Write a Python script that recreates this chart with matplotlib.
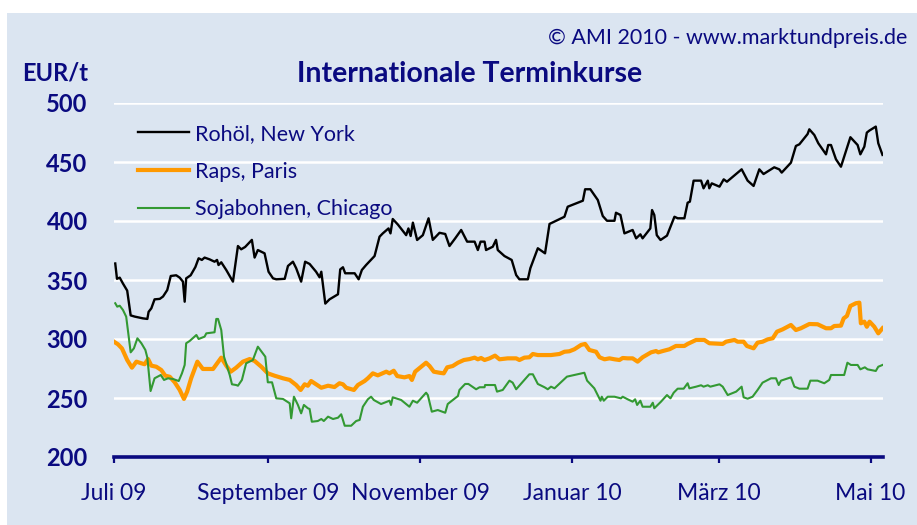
import matplotlib
matplotlib.use("Agg")
import matplotlib.pyplot as plt
import numpy as np
import pandas as pd
from matplotlib.patches import Rectangle

plt.rcParams["font.family"] = ["Lato", "DejaVu Sans"]

NAVY = "#0a0a80"
BG = "#dbe5f1"

START = pd.Timestamp("2009-07-01")

# Days since 1 July 2009 and prices in EUR/t.
oil_days = [0.5, 1.2, 2.3, 3.6, 5.3, 6.7, 8.3, 11.6, 13.4, 13.9, 15, 16.3, 18.4, 19.7, 21.4,
            22.8, 25, 26.4, 27.7, 28.4, 29, 30.8, 32.7, 34, 35.3, 36.4, 38.4, 40.4, 41.4, 42,
            43.1, 45.1, 47.8, 49.8, 51.1, 52.7, 55.4, 56.5, 57.8, 60.5, 62.1, 63.9, 65.2, 68.6,
            69.9, 71.9, 73.2, 75.2, 76.8, 78.6, 81.2, 82.6, 83.3, 84.9, 86.6, 90, 90.9, 92, 92.9,
            96.7, 98.3, 99.6, 101.3,
            104.7, 106.7, 108, 110.3, 111.1, 112, 114.1, 117.4, 118.3, 119.2, 120.1, 121.8, 124.1,
            126.4, 128.1, 130.8, 133.1, 134.8, 137.1, 139.5, 141.9, 144.9, 146.2, 147.3, 148.9,
            149.5, 152.2, 153.5, 154.2, 156.9, 159.8, 161.6, 162.9, 166.3, 167.3, 170.3, 173.2,
            175, 181, 182.3, 188.4, 189.3, 191.4, 194.4, 196.4, 198.1, 201.1, 201.7, 203.5, 205.1,
            208.4, 209.8, 211.5, 212.4, 215.5, 216.2, 217.1, 218.1, 219.6, 222.2, 225.2, 226.5,
            229.2, 230.5, 231.4, 232.9, 235.9, 236.9, 238.6, 239.2, 240.2, 243.3, 245, 246.3,
            252.2, 254.6, 257, 259.3, 261, 265.3, 267.3, 268.3, 272, 274, 275.4, 278.7, 279.4,
            281.4, 283, 286.1, 287, 288.1, 290.1, 292.1, 294.5, 295.9, 298.8, 299.9, 301.5,
            302.5, 303.5, 306.1, 307.1, 308.8]
oil_eur = [364, 351, 352, 347, 341, 320, 319, 317.5, 317, 323, 326, 333.6, 334, 336, 341.5,
           353.4, 354, 352, 348.6, 331.6, 351.4, 354, 361, 368.4, 367, 369, 367.5, 365.5, 367,
           362.7, 365, 358.5, 348.6, 378.8, 376, 378, 384, 369, 375.4, 372.6, 357, 351.4, 350.6,
           351, 361.9, 365.5, 360, 348.6, 365.5, 363.6, 357, 352.3, 357, 330, 333.6, 337.9, 359,
           360.8, 355.7, 355.7, 350.6, 358.5, 362.7,
           370.3, 386.7, 389.5, 393.7, 389.5, 401.7, 396.9, 388, 393.7, 387.3, 398.6, 383.9, 388,
           402.3, 384, 390, 389, 378.8, 385.3, 392.4, 382.5, 382.5, 375.4, 382.5, 382.5, 375.4,
           378.2, 384, 375.4, 370.3, 367, 354.2, 350.6, 350.6, 360, 376.9, 372.6, 397.5, 403.6,
           412.1, 417.2, 426.9, 426.9, 417.8, 404.2, 400.2, 400.2, 407, 405.1, 389.5,
           392.4, 385.3, 388.7, 385.3, 393.7, 409.3, 405.1, 388, 383.9, 387.6, 403.6, 402.3,
           402.3, 415.5, 416.4, 434.2, 434.2, 427.7, 434.2, 427.7, 431.9, 429.1, 435.3, 433.3,
           443.8, 434.2, 429.7, 443.8, 439.8, 445.5, 443.8, 441, 449.4, 463.6, 465, 473.7, 477.7,
           472.9, 465.9, 456.5, 464.4, 464.4, 452.3, 446, 461.6, 471, 464.4, 456.5, 463, 474.9,
           476.6, 480, 465.9, 456]

raps_days = [0, 1.6, 3.2, 5.3, 7.2, 9, 11, 12.3, 13.7, 15, 17, 19, 20.6, 22.4, 24.4, 26.4, 28.1,
             29.4, 31, 33.5, 35.7, 39.8, 43.1, 45.1, 46.9, 49.1, 51.8, 54.5, 56.5, 59.2, 61.8,
             64.5, 67.9, 70.6, 73.2, 75, 76.6, 77.9, 79.2, 81.2, 83.3, 86, 88.6, 90.6, 92, 93.3,
             96.4, 98, 100.7,
             102, 104, 106, 109.4, 110.7, 112.4, 113.8, 116.7, 118.7, 119.7, 121, 123.4, 125.4,
             126.8, 128.5, 130.8, 132.5, 133.9, 136.1, 138.2, 140.6, 142.9, 144.9, 146.2, 147.5,
             148.9, 150.9, 153.1, 154.9, 158.2, 161.6, 162.9, 164.9, 166.9, 168.3, 170.3, 175.6,
             179, 181, 183, 185, 187.7, 189.3, 191, 193.7, 195.1, 197.1, 199.1, 201.1, 203.1, 204.4,
             206.4, 208.4, 210.4, 212.4, 215.8, 217.8, 218.7, 220.5, 223.2, 225.8, 229.2, 230.5,
             233.9, 237.2, 239.2, 244.6, 245.9, 249.3, 250.6, 253, 254.3, 257, 258.6, 260.6,
             262.7, 264.7, 266.4, 268.7, 272, 274, 276, 279.4, 282.7, 286.1, 288.1, 289.4, 292.1,
             293.2, 294.5, 295.9, 298.1, 299.5, 300.1, 301.5, 302.5, 303.6, 305.5, 307.1, 308.8]
raps_eur = [297.7, 295.5, 292, 282.2, 275.7, 280.8, 279.4, 278.6, 283, 277.4, 276.5, 273.7, 268.9,
            268, 263.3, 256.8, 249.2, 255.4, 266.7, 280.8, 274.6, 274.6, 284.2, 277.4, 272.3,
            275.7, 280.8, 283, 281.4, 276.5, 270.9, 268.9, 266.7, 265.3, 261, 256.8, 261.6, 260.4,
            264.4, 261.6, 258.7, 260.4, 259.3, 262.5, 261.6, 258.7, 256.8, 261, 264.4,
            266.7, 270.9, 269.2, 272.3, 270.9, 273.1, 268.6, 267.5, 268.6, 265.3, 272.3, 276.5,
            279.9, 277.1, 272.3, 271.4, 270.9, 276, 277.1, 279.9, 282.2, 283, 284.2, 282.8, 283.9,
            282.2, 283.6, 285.9, 282.8, 283.6, 283.6, 282.2, 284.2, 284.5, 287.3, 286.4, 286.4,
            287.3, 289.2, 289.6, 291.3, 295, 295.8, 290.7, 289.2, 284.5, 282.8, 283.6, 282.8,
            282.2, 283.9,
            283.6, 283.6, 280.8, 284.5, 288.7, 289.8, 288.7, 289.8, 291.3, 294.1, 294.1, 295.8,
            299.2, 299.2, 296.4, 295.8, 297.7, 299.2, 297.7, 297.7, 294.1, 292.1, 296.9, 297.7,
            299.7, 300.6, 306.2, 308.2, 311.9, 307.6, 309.1, 312.7, 312.5, 309.1, 309.1, 311,
            311.3, 317.5, 319.5, 328, 330.3, 330.8, 313.3, 314.7, 310.4, 314.7, 310.4, 304.8, 309.1]

soja_days = [0.5, 1.3, 2.3, 3.6, 4.9, 6.7, 8, 9.4, 11, 12.6, 13.4, 14.7, 16.3, 18.8, 20.1, 21.7,
             23.7, 26, 27.3, 28.4, 29, 30.4, 33.1, 34, 36.4, 37.1, 40.4, 41.1, 41.8, 43.1, 44.2,
             46.5, 47.4, 49.1, 49.8, 51.4, 53.1, 55.8, 57.8, 60.8, 61.8, 63.5, 65.2, 67.9, 70.6,
             71.2, 72.3, 73.9, 75.2, 76.3, 77.9, 78.6, 79.5, 81.9, 83.3, 84.3, 86, 88, 90, 91.3,
             92.7, 95.3, 97.3, 98.7, 100,
             102, 103.3, 104.4, 107.3, 110.7, 111.3, 112, 115.4, 118.7, 120.1, 121.8, 125.4,
             126.1, 127.7, 130.1, 133.1, 134.1, 138.2, 138.8, 141.1, 142.4, 145.5, 146.9, 148.9,
             149.1, 153.1, 153.9, 156.2, 158.9, 160.2, 161.6, 166.9, 168.3, 170.3, 173, 174.3,
             175.6, 177, 182, 189, 190.1, 193, 195.5, 196, 196.8, 198.4, 201.1, 203.7, 204.4,
             206.4, 208.4, 209.4, 210.2, 211.5, 212.4, 215.5, 216.5, 217.1, 219.8, 222.2, 223.6,
             224.9, 226.5, 228.9, 230.5, 231.2, 233.9, 235.9, 236.9, 238.6, 239.6, 243.3, 244.6,
             246.6, 250, 252.2, 253, 254.6, 256.6, 258.6, 260.6, 264, 266, 267.1, 268, 272, 273.4,
             275.4, 278.7, 279.8, 282.7, 285.4, 287.4, 288.1, 293.4, 294.7, 296.1, 298.8, 299.9,
             301.7, 302.8, 306.1, 307.1, 308.8]
soja_eur = [330.3, 327.4, 328.2, 324.6, 318.9, 288.7, 292.1, 300.6, 296.4, 290.7, 284.2, 255.9,
            266.7, 269.5, 265.3, 266.7, 266.1, 264.4, 270.9, 278, 296.4, 298.3, 303.4, 300, 302,
            304.8, 305.7, 317, 317, 307.6, 285, 269.5, 261.6, 261, 260.4, 265.3, 279.4, 282.2,
            293.5, 285, 263.3, 263.3, 249.7, 249.2, 245.5, 232.8, 251.1, 244.1, 237, 244.1, 241.3,
            240.7, 229.9, 230.5, 232.2, 230.5, 234.2, 232.2, 233.3, 236.2, 226.5, 226.5, 230.5,
            231.4, 242.6,
            248.9, 251.1, 248.3, 244.9, 247.7, 244.1, 250.6, 248.3, 242.6, 247.7, 246, 254.5,
            252.5, 238.4, 239.8, 237.5, 244.9, 251.7, 256.8, 261.9, 261.9, 257.4, 259.1, 259.1,
            261, 261, 255.4, 256.8, 264.7, 263, 257.4, 270.1, 270.1, 261.9, 259.1, 257.4, 259.6,
            258.2, 268.1, 271.4, 264.7, 258.2, 247.7, 251.1, 247.7, 251.1, 251.1, 249.7, 251.1,
            248.9, 246.9, 248.9, 244.1, 247.7, 242.6, 242.6, 246, 241.3, 246.9, 252.5, 249.7,
            254.5, 257.9, 257.9, 262.5, 258.2, 259.6, 260.8, 259.6, 260.8, 259.6, 261.6, 259.6,
            252.5, 255.4, 259.6, 250.6, 249.4, 251.1, 256.8, 263, 266.7, 266.7, 261, 264.7, 267.5,
            259.6, 257.9, 257.9, 264.7, 264.7, 262.5, 265.3, 269.5, 269.5, 279.9, 278, 278, 274.3,
            276, 274.3, 272.9, 276.5, 278]

tick_dates = ["2009-07-01", "2009-09-01", "2009-11-01", "2010-01-01", "2010-03-01", "2010-05-01"]
tick_labels = ["Juli 09", "September 09", "November 09", "Januar 10", "März 10", "Mai 10"]
y_ticks = [200, 250, 300, 350, 400, 450, 500]


def to_dates(days):
    return START + pd.to_timedelta(np.array(days), unit="D")


fig = plt.figure(figsize=(9.17, 5.25), dpi=100, facecolor="white")
fig.patches.append(Rectangle((7 / 917, 0), 1, 512 / 525, transform=fig.transFigure,
                             facecolor=BG, edgecolor="none", zorder=-10))

ax = fig.add_axes([114 / 917, 68 / 525, 769 / 917, 354 / 525])
ax.set_facecolor("none")

l_raps, = ax.plot(to_dates(raps_days), raps_eur, color="#ff9900", lw=3.0, zorder=3,
                  label="Raps, Paris")
l_soja, = ax.plot(to_dates(soja_days), soja_eur, color="#339933", lw=1.5, zorder=4,
                  label="Sojabohnen, Chicago")
l_oil, = ax.plot(to_dates(oil_days), oil_eur, color="black", lw=1.7, zorder=5,
                 label="Rohöl, New York")

ax.set_ylim(200, 500)
ax.set_xlim(START, START + pd.Timedelta(days=309))
ax.set_yticks(y_ticks)
ax.set_xticks(pd.to_datetime(tick_dates))
ax.set_xticklabels(tick_labels)

ax.grid(axis="y", color="white", lw=1.8, zorder=1)
ax.set_axisbelow(True)
for side in ["left", "right", "top"]:
    ax.spines[side].set_visible(False)
ax.spines["bottom"].set_color(NAVY)
ax.spines["bottom"].set_linewidth(2.6)
ax.spines["bottom"].set_zorder(6)

ax.tick_params(axis="y", length=0, pad=19, labelsize=17, labelcolor=NAVY)
for lab in ax.get_yticklabels():
    lab.set_fontweight("bold")
ax.tick_params(axis="x", length=4, width=1.6, color=NAVY, pad=15, labelsize=16.5,
               labelcolor=NAVY)

leg = fig.legend(handles=[l_oil, l_raps, l_soja], loc="upper left",
                 bbox_to_anchor=(138 / 917, 1 - 124 / 525), frameon=False,
                 fontsize=15.5, handlelength=2.35, handletextpad=0.3, labelspacing=0.82,
                 borderpad=0, borderaxespad=0)
for t in leg.get_texts():
    t.set_color(NAVY)

fig.text(22 / 917, 1 - 73 / 525, "EUR/t", ha="left", va="center", fontsize=17,
         fontweight="bold", color=NAVY)
fig.text(470 / 917, 1 - 74 / 525, "Internationale Terminkurse", ha="center", va="center",
         fontsize=20.5, fontweight="bold", color=NAVY)
fig.text(907 / 917, 1 - 38 / 525, "© AMI 2010 - www.marktundpreis.de", ha="right",
         va="center", fontsize=15.5, color=NAVY)

fig.savefig("out.png", dpi=100, facecolor=fig.get_facecolor())
